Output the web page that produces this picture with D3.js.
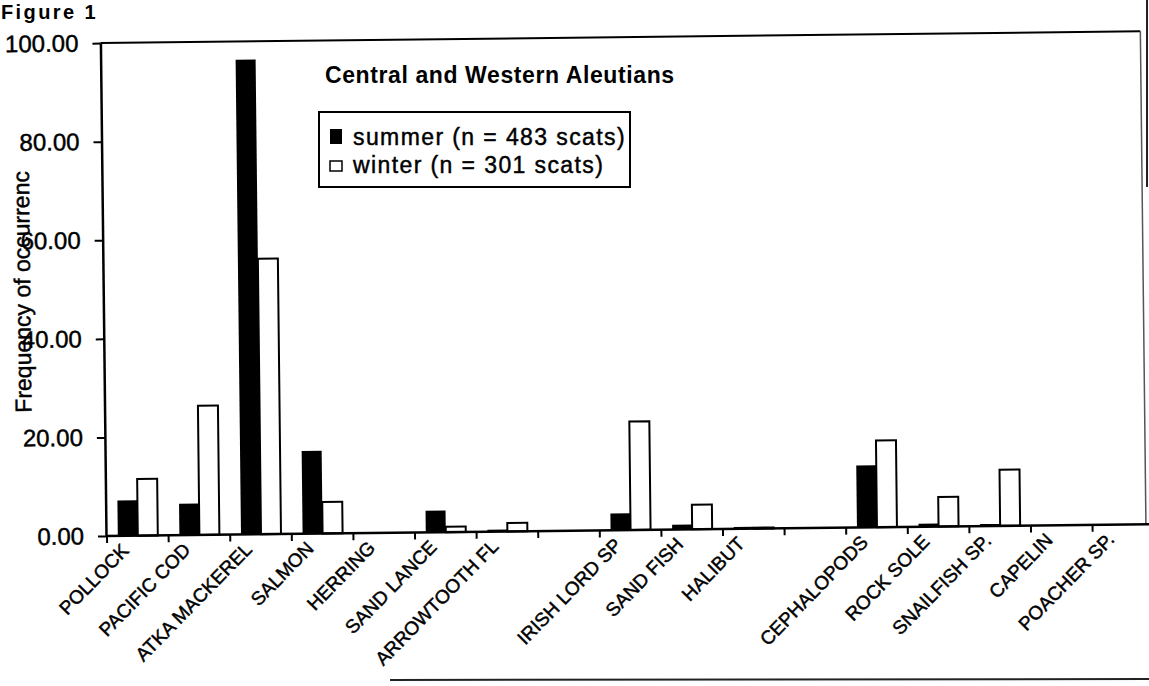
<!DOCTYPE html>
<meta charset="utf-8">
<style>
body { margin: 0; background: #fff; }
text { font-family: Arial, "Liberation Sans", sans-serif; fill: #000; }
.scan { stroke: #000; stroke-width: 0.45px; }
</style>
<svg width="1149" height="686"></svg>
<script src="https://d3js.org/d3.v7.min.js"></script>
<script>

var width = 1149,
    height = 686;

// data
var categories = ["POLLOCK", "PACIFIC COD", "ATKA MACKEREL", "SALMON", "HERRING", "SAND LANCE",
                  "ARROWTOOTH FL", "", "IRISH LORD SP", "SAND FISH", "HALIBUT", "",
                  "CEPHALOPODS", "ROCK SOLE", "SNAILFISH SP.", "CAPELIN", "POACHER SP."];
var summer = [7.2, 6.4, 96.3, 16.8, 0, 4.4, 0.4, 0, 3.4, 1.0, 0.4, 0, 12.6, 0.6, 0.4, 0, 0];
var winter = [11.5, 26.2, 55.9, 6.4, 0, 1.1, 1.7, 0, 22.0, 5.0, 0.2, 0, 17.6, 6.0, 11.4, 0, 0];
var yTicks = [0, 20, 40, 60, 80, 100];
var seriesNames = ["summer", "winter"];
var legendLabels = ["summer (n = 483 scats)", "winter (n = 301 scats)"];

var svg = d3.select("svg");

var x = d3.scaleBand()
    .domain(d3.range(categories.length))
    .range([107, 107 + categories.length * 61.6])
    .padding(0);

var x1 = d3.scaleBand()
    .domain(seriesNames)
    .range([0, x.bandwidth()])
    .paddingInner(0)
    .paddingOuter(0.54);

var y = d3.scaleLinear()
    .domain([0, 100])
    .range([536, 43]);

var axisX = 106,
    frameRight = 1146,
    y0 = y(0);

// the scan is tilted a little, so the whole plot is too
var g = svg.append("g")
    .attr("transform", "rotate(-0.65," + x.range()[0] + "," + y0 + ")");

// frame top and right
g.append("line")
    .attr("x1", axisX).attr("x2", frameRight)
    .attr("y1", y(100)).attr("y2", y(100))
    .attr("stroke", "#000").attr("stroke-width", 2);
g.append("line")
    .attr("x1", frameRight).attr("x2", frameRight)
    .attr("y1", y(100)).attr("y2", y0)
    .attr("stroke", "#555").attr("stroke-width", 1.5);

// bars
g.selectAll(".cat")
  .data(categories)
  .enter().append("g")
    .attr("transform", function(d, i) { return "translate(" + x(i) + ",0)"; })
    .each(function(d, i) {
      var sel = d3.select(this);
      if (summer[i] > 0) {
        sel.append("rect")
            .attr("x", x1("summer"))
            .attr("width", x1.bandwidth())
            .attr("y", y(summer[i]))
            .attr("height", y0 - y(summer[i]))
            .attr("fill", "#000");
      }
      if (winter[i] > 0) {
        sel.append("rect")
            .attr("x", x1("winter"))
            .attr("width", x1.bandwidth())
            .attr("y", y(winter[i]))
            .attr("height", y0 - y(winter[i]))
            .attr("fill", "#fff")
            .attr("stroke", "#000")
            .attr("stroke-width", 2);
      }
    });

// y axis
var yAxis = g.append("g")
    .attr("transform", "translate(" + axisX + ",0)")
    .call(d3.axisLeft(y)
        .tickValues(yTicks)
        .tickFormat(d3.format(".2f"))
        .tickSize(8)
        .tickSizeOuter(0)
        .tickPadding(14));
yAxis.select(".domain").attr("stroke-width", 2.5);
yAxis.selectAll(".tick line").attr("stroke-width", 2);
yAxis.selectAll(".tick text")
    .attr("class", "scan")
    .style("font-size", "24px")
    .style("font-family", "Arial, 'Liberation Sans', sans-serif");

// baseline and category boundary ticks
g.append("line")
    .attr("x1", axisX).attr("x2", 1170)
    .attr("y1", y0).attr("y2", y0)
    .attr("stroke", "#000").attr("stroke-width", 2.5);

g.selectAll(".btick")
  .data(d3.range(categories.length + 1))
  .enter().append("line")
    .attr("x1", function(i) { return x.range()[0] + i * x.step(); })
    .attr("x2", function(i) { return x.range()[0] + i * x.step(); })
    .attr("y1", y0).attr("y2", y0 + 7)
    .attr("stroke", "#000").attr("stroke-width", 2);

// category labels
g.selectAll(".xlab")
  .data(categories)
  .enter().append("text")
    .attr("class", "scan")
    .attr("transform", function(d, i) {
      var cx = x(i) + x.bandwidth() / 2 - 8, cy = y0 + 16;
      return "translate(" + cx + "," + cy + ") rotate(-45)";
    })
    .attr("text-anchor", "end")
    .style("font-size", "19px")
    .text(function(d) { return d; });

// y title
g.append("text")
    .attr("class", "scan")
    .attr("transform", "translate(33,291) rotate(-90)")
    .attr("text-anchor", "middle")
    .style("font-size", "23px")
    .text("Frequency of occurrenc");

// chart title and legend
svg.append("text")
    .attr("x", 325).attr("y", 83)
    .style("font-size", "23px")
    .style("font-weight", "bold")
    .style("letter-spacing", "0.6px")
    .text("Central and Western Aleutians");

svg.append("rect")
    .attr("x", 319).attr("y", 112)
    .attr("width", 311).attr("height", 75)
    .attr("fill", "#fff").attr("stroke", "#000").attr("stroke-width", 2);

var legend = svg.selectAll(".leg")
  .data(seriesNames)
  .enter().append("g")
    .attr("transform", function(d, i) { return "translate(330," + (137 + i * 28) + ")"; });

legend.append("rect")
    .attr("x", 0)
    .attr("y", function(d) { return d === "summer" ? -8 : -4; })
    .attr("width", 12)
    .attr("height", function(d) { return d === "summer" ? 15 : 10; })
    .attr("fill", function(d) { return d === "summer" ? "#000" : "#fff"; })
    .attr("stroke", "#000")
    .attr("stroke-width", function(d) { return d === "summer" ? 0 : 1.5; });

legend.append("text")
    .attr("class", "scan")
    .attr("x", 23).attr("y", 8)
    .style("font-size", "23px")
    .style("letter-spacing", "1.4px")
    .text(function(d, i) { return legendLabels[i]; });

// figure label
svg.append("text")
    .attr("x", 1).attr("y", 19)
    .style("font-size", "20px")
    .style("font-weight", "bold")
    .style("letter-spacing", "2.4px")
    .text("Figure 1");

// page edges from the scan
svg.append("line")
    .attr("x1", 1147).attr("x2", 1147).attr("y1", 0).attr("y2", 187)
    .attr("stroke", "#222").attr("stroke-width", 2);
svg.append("line")
    .attr("x1", 390).attr("x2", width).attr("y1", 680).attr("y2", 679)
    .attr("stroke", "#222").attr("stroke-width", 2);

</script>
